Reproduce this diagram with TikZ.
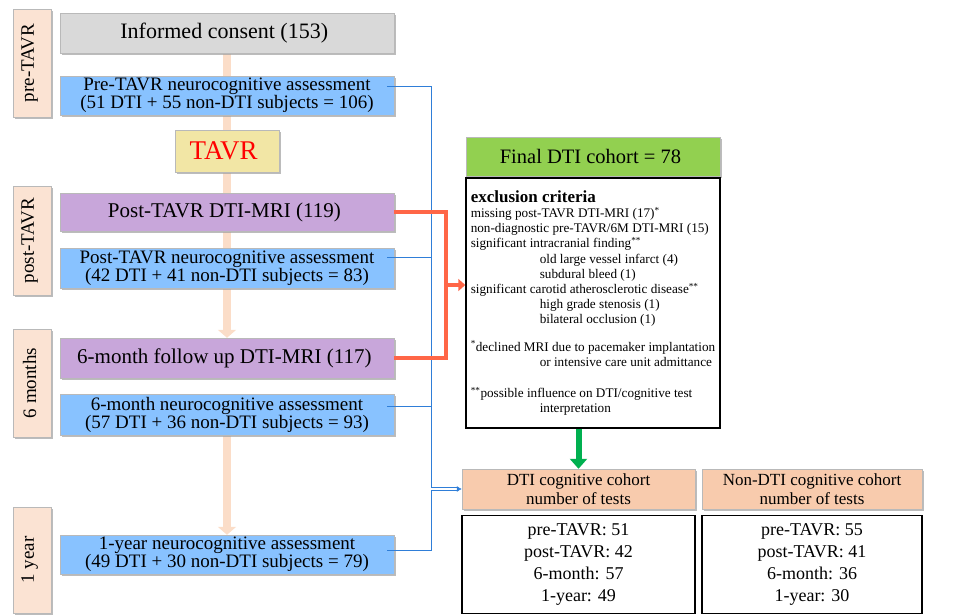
\documentclass[tikz,border=0pt]{standalone}
\usepackage{fontspec}
\setmainfont{Liberation Serif}
\usetikzlibrary{arrows.meta,positioning,shadows,backgrounds}
\usepackage{xcolor}

\definecolor{phasepeach}{HTML}{FBE3D3}
\definecolor{barpeach}{HTML}{FBDDC8}
\definecolor{consentgray}{HTML}{D9D9D9}
\definecolor{neuroblue}{HTML}{88C2FF}
\definecolor{mripurple}{HTML}{C8A6DA}
\definecolor{tavrkhaki}{HTML}{F2E6A5}
\definecolor{cohortgreen}{HTML}{92D050}
\definecolor{arrowgreen}{HTML}{00B050}
\definecolor{cogorange}{HTML}{F8CBAD}
\definecolor{mrired}{HTML}{FF6647}
\definecolor{linkblue}{HTML}{2F7ED8}

\newcommand{\exind}{\hspace*{69pt}}

\begin{document}
\begin{tikzpicture}[x=1pt, y=-1pt,
    every node/.style={
    rectangle,
    inner sep=2pt,
    draw=gray!55,
    align=center
},
    shaded/.style={drop shadow={shadow xshift=2pt, shadow yshift=-2pt, fill=gray!75, opacity=0.7}},
    phase/.style={shaded, fill=phasepeach, minimum width=38, font=\fontsize{19}{19}\selectfont},
    stepbox/.style={shaded, minimum width=334, font=\fontsize{19}{18}\selectfont},
    countbox/.style={draw=black, line width=1.5pt, font=\fontsize{18}{22}\selectfont}
]
    \useasboundingbox (0,0) rectangle (966,615);

    % time line labels
    \node (pre_tavr_phase) [phase, minimum height=108, shift={(32, 63)}]
    {
        \rotatebox{90}{pre-TAVR}
    };
    \node (post_tavr_phase) [phase, minimum height=109, shift={(32, 240.5)}]
    {
        \rotatebox{90}{post-TAVR}
    };
    \node (six_months_phase) [phase, minimum height=108, shift={(32, 383)}]
    {
        \rotatebox{90}{6 months}
    };
    \node (one_year_phase) [phase, minimum height=106, shift={(32, 560)}]
    {
        \rotatebox{90}{1 year}
    };

    % main column
    \node (informed_consent) [stepbox, fill=consentgray, minimum height=40,
        font=\fontsize{22}{24}\selectfont, shift={(227, 33)}]
    {
        Informed consent (153)
    };
    \node (pre_tavr_neuro) [stepbox, fill=neuroblue, minimum height=39, shift={(227, 95.5)}]
    {
        Pre-TAVR neurocognitive assessment\\
        (51 DTI + 55 non-DTI subjects = 106)
    };
    \node (tavr) [shaded, fill=tavrkhaki, minimum width=104, minimum height=42,
        text=red, font=\fontsize{27}{29}\selectfont, shift={(227, 151)}]
    {
        TAVR
    };
    \node (post_tavr_mri) [stepbox, fill=mripurple, minimum height=38,
        font=\fontsize{21}{23}\selectfont, shift={(227, 212)}]
    {
        Post-TAVR DTI-MRI (119)
    };
    \node (post_tavr_neuro) [stepbox, fill=neuroblue, minimum height=40, shift={(227, 268)}]
    {
        Post-TAVR neurocognitive assessment\\
        (42 DTI + 41 non-DTI subjects = 83)
    };
    \node (six_month_mri) [stepbox, fill=mripurple, minimum height=40,
        font=\fontsize{21}{23}\selectfont, shift={(227, 358)}]
    {
        6-month follow up DTI-MRI (117)
    };
    \node (six_month_neuro) [stepbox, fill=neuroblue, minimum height=41, shift={(227, 414.5)}]
    {
        6-month neurocognitive assessment\\
        (57 DTI + 36 non-DTI subjects = 93)
    };
    \node (one_year_neuro) [stepbox, fill=neuroblue, minimum height=39, shift={(227, 554.5)}]
    {
        1-year neurocognitive assessment\\
        (49 DTI + 30 non-DTI subjects = 79)
    };

    % cohorts
    \node (final_dti_cohort) [shaded, fill=cohortgreen, minimum width=254, minimum height=39,
        font=\fontsize{20.5}{22}\selectfont, shift={(593, 156.5)}]
    {
        Final DTI cohort = 78
    };
    \node (exclusion_criteria) [draw=black, line width=1.5pt, inner sep=1pt, minimum width=254, minimum height=250,
        align=left, font=\fontsize{13.2}{15.2}\selectfont, shift={(593, 303)}]
    {
        {\fontsize{17}{17}\selectfont\bfseries exclusion criteria}\\
        missing post-TAVR DTI-MRI (17)\textsuperscript{*}\\
        non-diagnostic pre-TAVR/6M DTI-MRI (15)\\
        significant intracranial finding\textsuperscript{**}\\
        \exind old large vessel infarct (4)\\
        \exind subdural bleed (1)\\
        significant carotid atherosclerotic disease\textsuperscript{**}\\
        \exind high grade stenosis (1)\\
        \exind bilateral occlusion (1)\\[12pt]
        \textsuperscript{*}declined MRI due to pacemaker implantation\\
        \exind or intensive care unit admittance\\[16pt]
        \textsuperscript{**}possible influence on DTI/cognitive test\\
        \exind interpretation
    };

    \node (dti_cog_cohort) [shaded, fill=cogorange, minimum width=233, minimum height=40,
        font=\fontsize{17}{19}\selectfont, shift={(578.5, 489)}]
    {
        DTI cognitive cohort\\
        number of tests
    };
    \node (non_dti_cog_cohort) [shaded, fill=cogorange, minimum width=220, minimum height=40,
        font=\fontsize{17}{19}\selectfont, shift={(812, 489)}]
    {
        Non-DTI cognitive cohort\\
        number of tests
    };
    \node (dti_tests) [countbox, minimum width=233, minimum height=98, shift={(578.5, 564.5)}]
    {
        pre-TAVR: 51\\
        post-TAVR: 42\\
        6-month: 57\\
        1-year: 49
    };
    \node (non_dti_tests) [countbox, minimum width=220, minimum height=98, shift={(812, 564.5)}]
    {
        pre-TAVR: 55\\
        post-TAVR: 41\\
        6-month: 36\\
        1-year: 30
    };

    \coordinate (cog_bus) at (431, 0);
    \coordinate (mri_bus) at (446, 0);
    \coordinate (mri_join) at (446, 285);
    \coordinate (pre_tap) at ([xshift=-7pt, yshift=9pt]pre_tavr_neuro.east);
    \coordinate (post_tap) at ([xshift=-7pt, yshift=11pt]post_tavr_neuro.east);
    \coordinate (six_tap) at ([xshift=-7pt, yshift=8pt]six_month_neuro.east);
    \coordinate (year_tap) at ([xshift=-7pt, yshift=4pt]one_year_neuro.east);

    \begin{pgfonlayer}{background}
        \draw[barpeach, line width=8pt, -{Triangle[width=18pt, length=8pt]}]
            (informed_consent.south) to (six_month_mri.north);
        \draw[barpeach, line width=8pt, -{Triangle[width=18pt, length=8pt]}]
            (six_month_neuro.south) to (one_year_neuro.north);
    \end{pgfonlayer}

    \draw[linkblue, line width=0.8pt] (pre_tap) -| (cog_bus |- year_tap) -- (year_tap);
    \draw[linkblue, line width=0.8pt] (post_tap) to (post_tap -| cog_bus);
    \draw[linkblue, line width=0.8pt] (six_tap) to (six_tap -| cog_bus);
    \draw[linkblue, line width=0.6pt, double distance=2pt, -{Latex[length=5pt, width=6pt]}]
        (cog_bus |- dti_cog_cohort.west) to (dti_cog_cohort.west);

    \draw[mrired, line width=4pt] (post_tavr_mri.east) -| (mri_bus |- six_month_mri.east) -- (six_month_mri.east);
    \draw[mrired, line width=4pt, -{Triangle[width=12pt, length=7pt]}] (mri_join) to (mri_join -| exclusion_criteria.west);

    \draw[arrowgreen, line width=6pt, -{Triangle[width=17pt, length=10pt]}]
        (exclusion_criteria.south -| dti_cog_cohort.north) to (dti_cog_cohort.north);
\end{tikzpicture}
\end{document}
